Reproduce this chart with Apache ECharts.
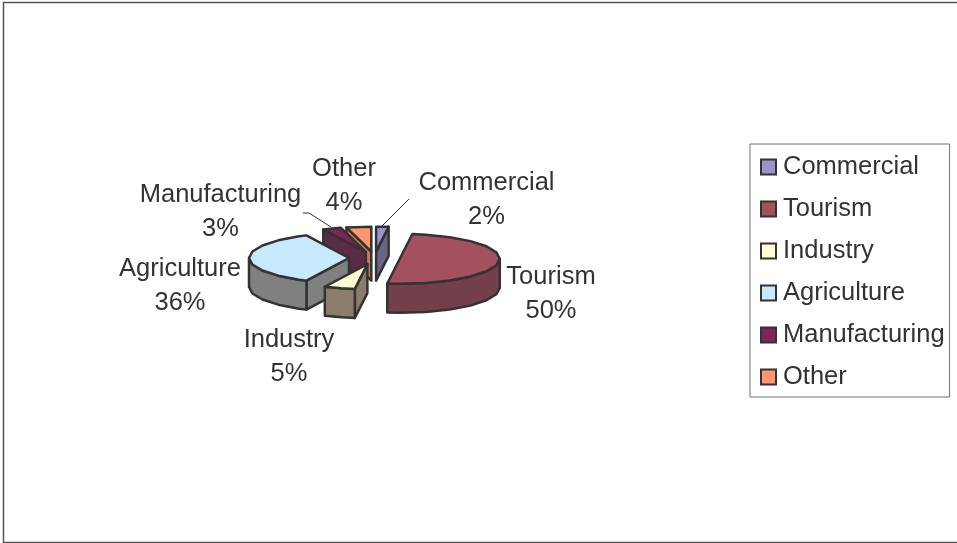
<!DOCTYPE html>
<html>
<head>
<meta charset="utf-8">
<style>html,body{margin:0;padding:0;background:#fff;overflow:hidden}#c{width:957px;height:543px}</style>
<script src="https://cdn.jsdelivr.net/npm/echarts@6/dist/echarts.min.js"></script>
</head>
<body>
<div id="c"></div>
<script>
const categories = ['Commercial', 'Tourism', 'Industry', 'Agriculture', 'Manufacturing', 'Other'];
const shares = [2, 50, 5, 36, 3, 4];

const topColors = ['#9C93CC', '#A5505F', '#FFFBD2', '#C6E9FB', '#7F2455', '#FF9670'];
const sideColors = ['#6D6484', '#733F4A', '#8C7D6B', '#808080', '#5A2B47', '#C97B58'];
const paintOrder = [5, 6, 4, 3, 2, 1];   // z per category: back slices first

// label centre (x, y of the middle between the two lines)
const labelX = [486.5, 551, 289, 180, 220.5, 344];
const labelY = [200, 294, 357, 286, 212, 186];
// leader lines (only the two small slices at the top have one)
const leaders = {
  0: [[409, 199], [382, 226]],
  4: [[303, 213], [309, 213], [331, 227]]
};

const geom = { cx: 374.5, cy: 258, rx: 100, ry: 25, depth: 29, explode: 25.5, step: 15 };
const ink = '#333333';
const font = '"Liberation Sans", Arial, sans-serif';
const total = shares.reduce((a, b) => a + b, 0);

function rimPoint(c, deg, dz) {
  const a = deg * Math.PI / 180;
  return [c[0] + geom.rx * Math.sin(a), c[1] - geom.ry * Math.cos(a) + (dz || 0)];
}
function arc(c, from, to, dz) {
  const pts = [rimPoint(c, from, dz)];
  for (let d = Math.ceil(from / geom.step + 1e-6) * geom.step; d < to - 1e-6; d += geom.step) {
    pts.push(rimPoint(c, d, dz));
  }
  pts.push(rimPoint(c, to, dz));
  return pts;
}
function poly(points, fill) {
  return {
    type: 'polygon',
    shape: { points: points },
    style: { fill: fill, stroke: ink, lineWidth: 2.5, lineJoin: 'round' }
  };
}
function sliceRenderer(index) {
  return function (params, api) {
    const value = api.value(0);
    const before = shares.slice(0, index).reduce((a, b) => a + b, 0);
    const start = before / total * 360;
    const end = start + value / total * 360;
    const mid = (start + end) / 2 * Math.PI / 180;
    const c = [
      geom.cx + geom.explode * Math.sin(mid),
      geom.cy - geom.explode * geom.ry / geom.rx * Math.cos(mid)
    ];
    const children = [];
    const d = geom.depth;
    const side = sideColors[index];
    const face = (p, q) => poly([p, q, [q[0], q[1] + d], [p[0], p[1] + d]], side);
    // a cut face shows when its outward normal points toward the viewer
    if (start > 180) children.push(face(c, rimPoint(c, start)));
    if (end < 180) children.push(face(c, rimPoint(c, end)));
    // outer rim wall: only the part facing the viewer (90..270 degrees)
    const a0 = Math.max(start, 90), a1 = Math.min(end, 270);
    if (a1 > a0) {
      children.push(poly(arc(c, a0, a1, 0).concat(arc(c, a0, a1, d).reverse()), side));
    }
    // top surface
    children.push(poly([c].concat(arc(c, start, end, 0)), api.visual('color')));
    children.push({
      type: 'text',
      style: {
        x: labelX[index], y: labelY[index],
        text: categories[index] + '\n' + Math.round(value / total * 100) + '%',
        fill: ink, font: '25.5px ' + font,
        align: 'center', verticalAlign: 'middle', lineHeight: 34
      }
    });
    if (leaders[index]) {
      children.push({
        type: 'polyline',
        shape: { points: leaders[index] },
        style: { fill: 'none', stroke: ink, lineWidth: 1 }
      });
    }
    return { type: 'group', children: children };
  };
}

const chart = echarts.init(document.getElementById('c'), null, { renderer: 'canvas' });
chart.setOption({
  animation: false,
  backgroundColor: '#ffffff',
  graphic: [{
    type: 'rect', silent: true, z: 0,
    shape: { x: 3.5, y: 2.5, width: 970, height: 540 },
    style: { fill: 'none', stroke: '#555555', lineWidth: 1.5 }
  }],
  legend: {
    orient: 'vertical',
    left: 750, top: 144,
    padding: [8, 5, 5, 10],
    borderColor: '#707070', borderWidth: 1,
    itemWidth: 15, itemHeight: 15, itemGap: 12,
    icon: 'rect',
    selectedMode: false,
    itemStyle: { borderColor: ink, borderWidth: 2 },
    textStyle: { fontSize: 25.5, color: ink, fontFamily: font, lineHeight: 28, padding: [2, 0, 0, 2] },
    data: categories
  },
  series: categories.map((name, i) => ({
    type: 'custom',
    name: name,
    coordinateSystem: 'none',
    z: paintOrder[i],
    itemStyle: { color: topColors[i] },
    renderItem: sliceRenderer(i),
    data: [[shares[i]]]
  }))
});
</script>
</body>
</html>
